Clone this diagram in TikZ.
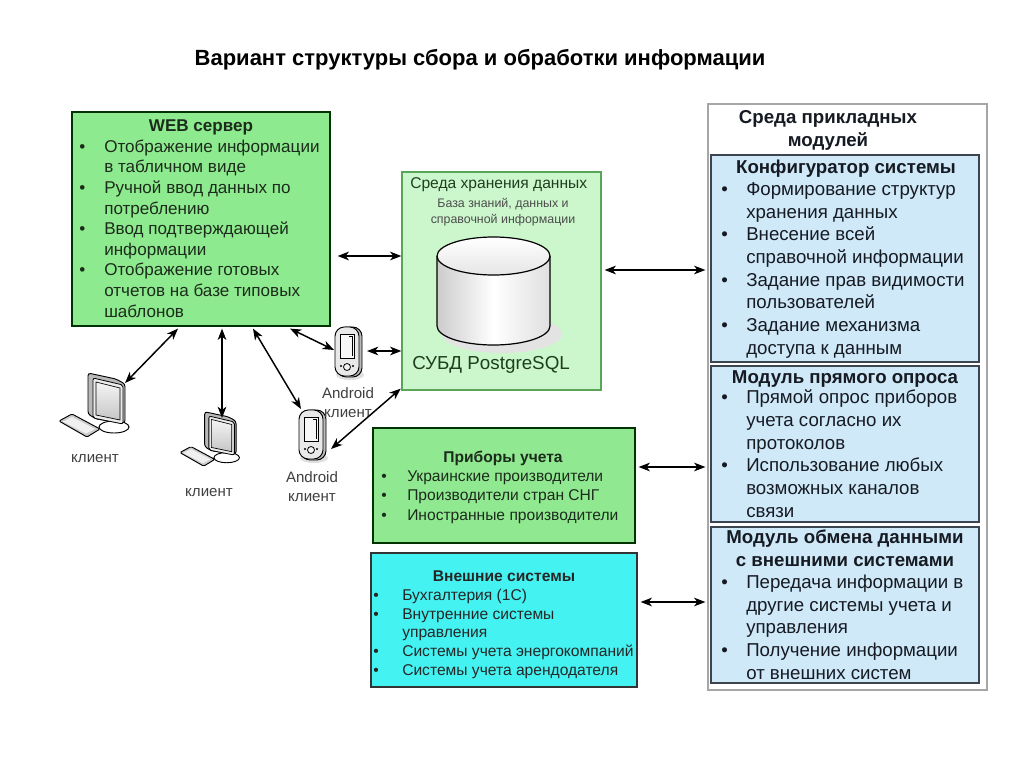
\documentclass[tikz,border=0pt]{standalone}
\usepackage{fontspec}
\setmainfont{Liberation Sans}
\usetikzlibrary{arrows.meta,fit}
\definecolor{webgreen}{HTML}{8EEA8E}
\definecolor{storegreen}{HTML}{CCF7CC}
\definecolor{pribgreen}{HTML}{90E890}
\definecolor{extcyan}{HTML}{44F2F2}
\definecolor{modblue}{HTML}{CFE9F8}
\definecolor{modborder}{HTML}{3C4450}
\definecolor{gtext}{HTML}{1C2C1C}
\definecolor{btext}{HTML}{161A22}
\definecolor{stext}{HTML}{1E3E1E}
\newcommand\mybul[1]{\makebox[#1][l]{\textbullet}}
\newcommand\myind[1]{\hspace*{#1}}
\begin{document}
\begin{tikzpicture}[x=0.75pt,y=-0.75pt,
  box/.style={inner sep=0pt, line width=0.9pt},
  txt/.style={inner sep=0pt, align=left, anchor=base west},
  ctr/.style={inner sep=0pt, align=center, anchor=base},
  arr/.style={{Stealth[length=8.5pt,width=6.5pt,inset=2.5pt]}-{Stealth[length=8.5pt,width=6.5pt,inset=2.5pt]}, line width=1.1pt, black},
  lbl/.style={inner sep=0pt, anchor=base, font=\fontsize{11.3}{14}\selectfont, text=black!75},
  pics/computer/.style={code={
    \filldraw[fill=white, draw=black, line width=0.7pt] (22,49) ellipse [x radius=15, y radius=6];
    \filldraw[fill=gray!55, draw=black, line width=0.7pt, rounded corners=2] (-4,-5) -- (24,1) -- (33,6) -- (33,45) -- (4,41) -- (-4,36) -- cycle;
    \filldraw[fill=gray!15, draw=black, line width=0.6pt, rounded corners=1.5] (1,0) -- (31,7) -- (31,46) -- (1,40) -- cycle;
    \shade[top color=gray!8, bottom color=gray!45] (4,4) -- (28,10) -- (28,42) -- (4,37) -- cycle;
    \draw[line width=0.5pt] (4,4) -- (28,10) -- (28,42) -- (4,37) -- cycle;
    \filldraw[fill=gray!40, draw=black, line width=0.7pt, rounded corners=1] (-33,43) -- (-20,36) -- (8,51) -- (-5,59) -- cycle;
    \fill[gray!12] (-29,43.5) -- (-20,39) -- (3,51) -- (-6,55.5) -- cycle;
  }},
  pics/phone/.style={code={
    \fill[gray!25] (15,48) ellipse [x radius=14, y radius=5];
    \filldraw[fill=gray!55, draw=black, line width=0.7pt, rounded corners=7] (2,0) rectangle (27,50);
    \filldraw[fill=gray!18, draw=black, line width=0.7pt, rounded corners=7] (0,0) rectangle (24,49);
    \filldraw[fill=gray!6, draw=black, line width=0.6pt] (5,7) rectangle (19,31);
    \draw[line width=0.6pt] (14,9) -- (17,9) -- (17,29);
    \draw[line width=0.6pt, fill=gray!10] (12,40) circle [radius=3.5];
    \fill (6,39) circle [radius=1.2];
    \fill (18,39) circle [radius=1.2];
  }}
]
\useasboundingbox (0,0) rectangle (1024,767);
\fill[white] (0,0) rectangle (1024,767);

% title
\node[ctr, font=\bfseries\fontsize{16.5}{19}\selectfont] (title) at (480,66) {Вариант структуры сбора и обработки информации};

% boxes
\node[box, fit={(72,112)(330,326)}, draw=black!80!green, fill=webgreen] (web) {};
\node[box, fit={(402,172)(601,390)}, draw=gray!70!green, fill=storegreen] (store) {};
\node[box, fit={(708,104)(987,690)}, draw=gray!70, fill=white] (outer) {};
\node[box, fit={(711,155)(979,362)}, draw=modborder, fill=modblue] (cfg) {};
\node[box, fit={(711,366)(979,522)}, draw=modborder, fill=modblue] (poll) {};
\node[box, fit={(711,527)(979,683)}, draw=modborder, fill=modblue] (xchg) {};
\node[box, fit={(373,428)(635,543)}, draw=black!80!green, fill=pribgreen] (prib) {};
\node[box, fit={(371,553)(637,687)}, draw=black!80, fill=extcyan] (ext) {};

% WEB text (base anchor = last line baseline)
\node[ctr, text=gtext, font=\bfseries\fontsize{12.8}{15}\selectfont] (webt) at (201,132) {WEB сервер};
\node[txt, text=gtext, font=\fontsize{12.8}{15.45}\selectfont] (webl) at (79,317) {%
\mybul{18.75pt}Отображение информации\\
\myind{18.75pt}в табличном виде\\
\mybul{18.75pt}Ручной ввод данных по\\
\myind{18.75pt}потреблению\\
\mybul{18.75pt}Ввод подтверждающей\\
\myind{18.75pt}информации\\
\mybul{18.75pt}Отображение готовых\\
\myind{18.75pt}отчетов на базе типовых\\
\myind{18.75pt}шаблонов};

% storage text
\node[txt, text=stext, font=\fontsize{11.7}{14}\selectfont] (storet) at (410,188) {Среда хранения данных};
\node[ctr, text=black!70, font=\fontsize{9.3}{11.3}\selectfont] (storekb) at (503,223) {База знаний, данных и\\справочной информации};
\node[txt, text=stext, font=\fontsize{14.1}{17}\selectfont] (dbms) at (412,369) {СУБД PostgreSQL};

% cylinder
\fill[gray!22] (502,334) ellipse [x radius=60, y radius=19];
\shade[left color=gray!40, right color=gray!25, middle color=white] (437,256) -- (437,326) arc[start angle=180, end angle=0, x radius=56.5, y radius=19] -- (550,256) -- cycle;
\draw[line width=0.9pt] (437,256) -- (437,326) arc[start angle=180, end angle=0, x radius=56.5, y radius=19] -- (550,256);
\shade[top color=white, bottom color=gray!20] (493.5,256) ellipse [x radius=56.5, y radius=19];
\draw[line width=0.9pt] (493.5,256) ellipse [x radius=56.5, y radius=19];

% modules
\node[ctr, text=btext, font=\bfseries\fontsize{14}{17}\selectfont] (outt) at (828,146) {Среда прикладных\\модулей};
\node[ctr, text=btext, font=\bfseries\fontsize{14}{17}\selectfont] (cfgt) at (846,173) {Конфигуратор системы};
\node[txt, text=btext, font=\fontsize{14}{17}\selectfont] (cfgl) at (721,354) {%
\mybul{18.75pt}Формирование структур\\
\myind{18.75pt}хранения данных\\
\mybul{18.75pt}Внесение всей\\
\myind{18.75pt}справочной информации\\
\mybul{18.75pt}Задание прав видимости\\
\myind{18.75pt}пользователей\\
\mybul{18.75pt}Задание механизма\\
\myind{18.75pt}доступа к данным};
\node[ctr, text=btext, font=\bfseries\fontsize{14}{17}\selectfont] (pollt) at (845,383) {Модуль прямого опроса};
\node[txt, text=btext, font=\fontsize{14}{17}\selectfont] (polll) at (721,517) {%
\mybul{18.75pt}Прямой опрос приборов\\
\myind{18.75pt}учета согласно их\\
\myind{18.75pt}протоколов\\
\mybul{18.75pt}Использование любых\\
\myind{18.75pt}возможных каналов\\
\myind{18.75pt}связи};
\node[ctr, text=btext, font=\bfseries\fontsize{14}{17}\selectfont] (xchgt) at (845,566) {Модуль обмена данными\\с внешними системами};
\node[txt, text=btext, font=\fontsize{14}{17}\selectfont] (xchgl) at (721,679) {%
\mybul{18.75pt}Передача информации в\\
\myind{18.75pt}другие системы учета и\\
\myind{18.75pt}управления\\
\mybul{18.75pt}Получение информации\\
\myind{18.75pt}от внешних систем};

% pribory
\node[ctr, text=gtext, font=\bfseries\fontsize{11.7}{14}\selectfont] (pribt) at (503,462) {Приборы учета};
\node[txt, text=gtext, font=\fontsize{11.7}{14.6}\selectfont] (pribl) at (381,520) {%
\mybul{19.5pt}Украинские производители\\
\mybul{19.5pt}Производители стран СНГ\\
\mybul{19.5pt}Иностранные производители};

% external
\node[ctr, text=black!85, font=\bfseries\fontsize{11.7}{14}\selectfont] (extt) at (504,581) {Внешние системы};
\node[txt, text=black!85, font=\fontsize{11.7}{14}\selectfont] (extl) at (373,675) {%
\mybul{21.75pt}Бухгалтерия (1С)\\
\mybul{21.75pt}Внутренние системы\\
\myind{21.75pt}управления\\
\mybul{21.75pt}Системы учета энергокомпаний\\
\mybul{21.75pt}Системы учета арендодателя};

% icons
\pic at (92,378) {computer};
\pic[scale=0.85] at (208,416) {computer};
\pic at (335,327) {phone};
\pic at (299,410) {phone};
\node[lbl] (pc1l) at (95,462) {клиент};
\node[lbl] (pc2l) at (209,496) {клиент};
\node[lbl] (ph1lab) at (348,398) {Android};
\node[lbl] (ph1lab2) at (348,417) {клиент};
\node[lbl] (ph2lab) at (312,482) {Android};
\node[lbl] (ph2lab2) at (312,501) {клиент};

% connector end points at icons
\coordinate (pc1) at (125,383);
\coordinate (pc2) at (222,418);
\coordinate (ph1w) at (334,350);
\coordinate (ph1e) at (367,351);
\coordinate (ph2n) at (301,409);
\coordinate (ph2e) at (331,449);

% connectors
\draw[arr] (web.east |- 0,256) ++(7,0) -- (store.west |- 0,256);
\draw[arr] (store.east |- 0,270) ++(3,0) -- ([xshift=-1.5pt]outer.west |- 0,270);
\draw[arr] (ph1e) -- (store.west |- ph1e);
\draw[arr] (ph2e) -- ([shift={(-0.5pt,1.5pt)}]store.south west);
\draw[arr] (prib.east |- 0,467) ++(3,0) -- ([xshift=-1.5pt]outer.west |- 0,467);
\draw[arr] (ext.east |- 0,602) ++(3,0) -- ([xshift=-1.5pt]outer.west |- 0,602);
\draw[arr] ([yshift=-1.5pt]web.south -| 178,0) -- (pc1);
\draw[arr] ([yshift=-1.5pt]web.south -| 222,0) -- (pc2);
\draw[arr] ([yshift=-1.5pt]web.south -| 253,0) -- (ph2n);
\draw[arr] ([yshift=-1.5pt]web.south -| 290,0) -- (ph1w);
\end{tikzpicture}
\end{document}
